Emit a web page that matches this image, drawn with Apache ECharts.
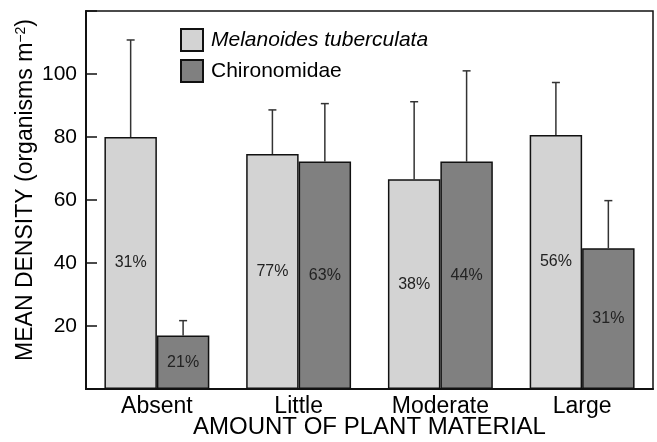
<!DOCTYPE html>
<html lang="en">
<head>
<meta charset="UTF-8">
<title>chart</title>
<script src="https://cdn.jsdelivr.net/npm/echarts@6/dist/echarts.min.js"></script>
<style>
  html, body { margin: 0; padding: 0; background: #fff; }
  #container { width: 657px; height: 442px; }
</style>
</head>
<body>
<div id="container"></div>
<script>
// data
const categories = ['Absent', 'Little', 'Moderate', 'Large']
const seriesNames = ['Melanoides tuberculata', 'Chironomidae']
const melanoidesMean = [80, 74.6, 66.6, 80.6]
const melanoidesUpper = [110.8, 88.6, 91.2, 97.3]
const melanoidesPct = ['31%', '77%', '38%', '56%']
const chironomidaeMean = [17, 72.2, 72.2, 44.7]
const chironomidaeUpper = [21.7, 90.6, 101, 59.8]
const chironomidaePct = ['21%', '63%', '44%', '31%']
const yTicks = [20, 40, 60, 80, 100]

const FONT = '"Liberation Sans", Arial, sans-serif'
const BAR_SHARE = 0.37 // each bar's share of a category band

// error bar drawn at the centre of one bar of the pair
function errorBar(side) {
  return function (params, api) {
    const band = api.size([1, 0])[0]
    const x = api.coord([api.value(0), 0])[0] + side * band * BAR_SHARE / 2
    const yTop = api.coord([0, api.value(1)])[1]
    const yErr = api.coord([0, api.value(2)])[1]
    const style = { stroke: '#333', lineWidth: 1.5 }
    return {
      type: 'group',
      children: [
        { type: 'line', shape: { x1: x, y1: yTop, x2: x, y2: yErr }, style },
        { type: 'line', shape: { x1: x - 4, y1: yErr, x2: x + 4, y2: yErr }, style }
      ]
    }
  }
}

function barSeries(name, values, pcts, color) {
  return {
    name,
    type: 'bar',
    data: values,
    barGap: '0%',
    barCategoryGap: '26%',
    itemStyle: { color, borderColor: '#111', borderWidth: 1.5 },
    label: {
      show: true,
      position: 'inside',
      formatter: p => pcts[p.dataIndex],
      fontFamily: FONT,
      fontSize: 16,
      color: '#222'
    }
  }
}

const myChart = echarts.init(document.getElementById('container'))
myChart.setOption({
  animation: false,
  backgroundColor: '#fff',
  textStyle: { fontFamily: FONT, color: '#000' },
  grid: {
    left: 86, right: 4, top: 11, bottom: 53,
    outerBoundsMode: 'none',
    containLabel: false,
    show: true, borderColor: '#111', borderWidth: 1.5
  },
  legend: {
    data: seriesNames,
    orient: 'vertical',
    left: 180, top: 28,
    padding: 0,
    itemWidth: 22, itemHeight: 22, itemGap: 7,
    icon: 'rect',
    formatter: n => n === seriesNames[0] ? '{i|' + n + '}' : n,
    textStyle: {
      fontFamily: FONT, fontSize: 21, color: '#000', padding: [0, 0, 0, 3],
      rich: { i: { fontFamily: FONT, fontSize: 21, fontStyle: 'italic', color: '#000' } }
    }
  },
  xAxis: {
    type: 'category',
    data: categories,
    name: 'AMOUNT OF PLANT MATERIAL',
    nameLocation: 'middle',
    nameGap: 26,
    nameMoveOverlap: false,
    nameTextStyle: { fontFamily: FONT, fontSize: 24, color: '#000' },
    axisLine: { lineStyle: { color: '#111', width: 2 } },
    axisTick: { inside: true, length: 11, lineStyle: { color: '#111', width: 1.5 } },
    axisLabel: { fontFamily: FONT, fontSize: 23, color: '#000', margin: 6 }
  },
  yAxis: {
    type: 'value',
    min: 0, max: 120, interval: 20,
    name: '{a|MEAN DENSITY (organisms m}{s|−2}{a|)}',
    nameLocation: 'middle',
    nameGap: 48,
    nameMoveOverlap: false,
    nameTextStyle: {
      padding: [0, 0, 0, 20],
      rich: {
        a: { fontFamily: FONT, fontSize: 23, color: '#000' },
        s: { fontFamily: FONT, fontSize: 14, color: '#000', verticalAlign: 'top', padding: [0, 0, 10, 0] }
      }
    },
    axisLine: { show: true, lineStyle: { color: '#111', width: 2 } },
    axisTick: { show: true, inside: true, length: 11, lineStyle: { color: '#111', width: 1.5 } },
    splitLine: { show: false },
    axisLabel: {
      fontFamily: FONT, fontSize: 21, color: '#000', margin: 9,
      formatter: v => yTicks.indexOf(v) >= 0 ? String(v) : ''
    }
  },
  series: [
    barSeries(seriesNames[0], melanoidesMean, melanoidesPct, '#d3d3d3'),
    barSeries(seriesNames[1], chironomidaeMean, chironomidaePct, '#808080'),
    {
      type: 'custom',
      renderItem: errorBar(-1),
      encode: { x: 0, y: [1, 2] },
      data: categories.map((c, i) => [i, melanoidesMean[i], melanoidesUpper[i]]),
      z: 1
    },
    {
      type: 'custom',
      renderItem: errorBar(1),
      encode: { x: 0, y: [1, 2] },
      data: categories.map((c, i) => [i, chironomidaeMean[i], chironomidaeUpper[i]]),
      z: 1
    }
  ]
})
</script>
</body>
</html>
